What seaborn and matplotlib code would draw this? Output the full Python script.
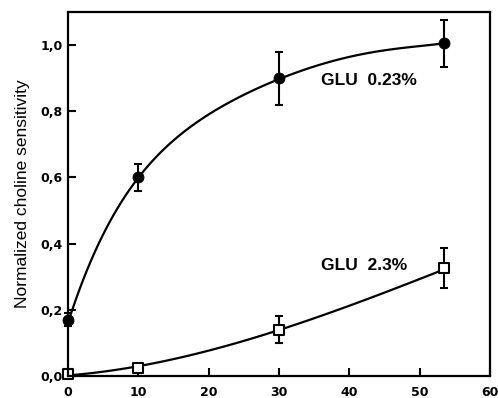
import matplotlib
matplotlib.use("Agg")
import matplotlib.pyplot as plt
import seaborn as sns
import pandas as pd
from matplotlib.ticker import FuncFormatter

# ---- data ----
x_points = [0, 10, 30, 53.4]
glu_low = [0.17, 0.60, 0.90, 1.005]
glu_low_err = [0.02, 0.04, 0.08, 0.07]
glu_high = [0.005, 0.024, 0.14, 0.327]
glu_high_err = [0.006, 0.012, 0.04, 0.06]

# fitted curves as traced in the reference
fit_low_x = [0, 1.8, 3.6, 5.0, 6.45, 8.2, 10, 11.7, 13.4, 15.8, 18.3, 20.7, 23.1, 25.5, 27.8, 30, 32, 34, 37.3, 40.2, 42.5, 44.9, 47.3, 49.7, 51.5, 53.4]
fit_low_y = [0.17, 0.265, 0.35, 0.425, 0.493, 0.55, 0.600, 0.645, 0.685, 0.728, 0.766, 0.795, 0.822, 0.851, 0.877, 0.897, 0.918, 0.935, 0.951, 0.963, 0.973, 0.982, 0.990, 0.997, 1.001, 1.005]
fit_high_x = [0, 5, 10.3, 14.1, 20.7, 25, 29.9, 33.8, 37.8, 42.5, 47.3, 50.5, 53.4]
fit_high_y = [0.005, 0.012, 0.024, 0.046, 0.084, 0.110, 0.139, 0.167, 0.195, 0.230, 0.266, 0.296, 0.326]

labels = ["GLU  0.23%", "GLU  2.3%"]
x_ticks = [0, 10, 20, 30, 40, 50, 60]
y_ticks = [0.0, 0.2, 0.4, 0.6, 0.8, 1.0]
y_label = "Normalized choline sensitivity"

sns.set_style("white")
plt.rcParams['font.family'] = ['Liberation Sans', 'DejaVu Sans']
plt.rcParams.update({"text.color": "black", "axes.labelcolor": "black",
                     "xtick.color": "black", "ytick.color": "black"})

fig = plt.figure(figsize=(4.98, 3.98), dpi=100)
ax = fig.add_axes([0.1365, 0.0553, 0.8475, 0.9147])

# smooth fitted curves (seaborn polynomial regression through the traced curve)
sns.regplot(x=fit_low_x, y=fit_low_y, order=5, ci=None, scatter=False,
            truncate=True, ax=ax, line_kws=dict(color="black", lw=1.6, zorder=2))
sns.regplot(x=fit_high_x, y=fit_high_y, order=3, ci=None, scatter=False,
            truncate=True, ax=ax, line_kws=dict(color="black", lw=1.6, zorder=2))

ax.errorbar(x_points, glu_low, yerr=glu_low_err, fmt="none", ecolor="black",
            elinewidth=1.5, capsize=3.2, capthick=1.5, zorder=3, clip_on=False)
ax.errorbar(x_points, glu_high, yerr=glu_high_err, fmt="none", ecolor="black",
            elinewidth=1.5, capsize=3.2, capthick=1.5, zorder=3, clip_on=False)

pts = pd.DataFrame({"x": x_points, "low": glu_low, "high": glu_high})
sns.scatterplot(data=pts, x="x", y="low", ax=ax, marker="o", s=62,
                color="black", edgecolor="black", zorder=4, clip_on=False)
sns.scatterplot(data=pts, x="x", y="high", ax=ax, marker="s", s=42,
                facecolor="white", edgecolor="black", linewidth=1.5, zorder=4,
                clip_on=False)

ax.text(35.9, 0.894, labels[0], ha="left", va="center", fontsize=12.5,
        fontweight="bold", color="black")
ax.text(35.9, 0.333, labels[1], ha="left", va="center", fontsize=12.5,
        fontweight="bold", color="black")

ax.set_xlim(0, 60)
ax.set_ylim(0, 1.1)
ax.set_xticks(x_ticks)
ax.set_yticks(y_ticks)
ax.xaxis.set_major_formatter(FuncFormatter(lambda v, p: f"{v:.0f}"))
ax.yaxis.set_major_formatter(FuncFormatter(lambda v, p: f"{v:.1f}".replace(".", ",")))
ax.tick_params(axis="both", direction="in", length=6, width=1.5,
               bottom=True, left=True, top=False, right=False,
               colors="black", labelcolor="black")
ax.tick_params(axis="x", pad=7)
ax.tick_params(axis="y", pad=4)
for lab in ax.get_xticklabels() + ax.get_yticklabels():
    lab.set_fontweight("bold")
    lab.set_fontfamily("DejaVu Sans")
    lab.set_fontsize(9)
    lab.set_color("black")
ax.set_xlabel("")
ax.set_ylabel(y_label, fontsize=12.5, labelpad=7, color="black")
for sp in ax.spines.values():
    sp.set_visible(True)
    sp.set_color("black")
    sp.set_linewidth(1.6)
    sp.set_zorder(5)

fig.savefig("out.png", dpi=100)
